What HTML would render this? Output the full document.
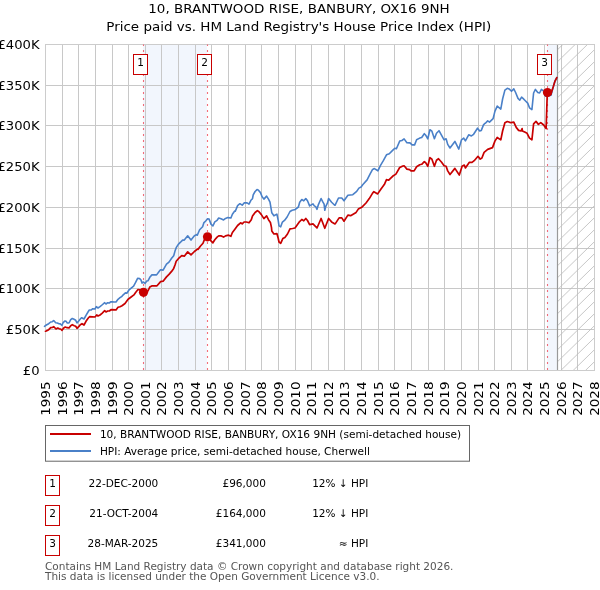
<!DOCTYPE html>
<html><head><meta charset="utf-8"><style>
html,body{margin:0;padding:0;background:#fff;}
svg{display:block;}
text{font-family:"DejaVu Sans","Liberation Sans",sans-serif;}
</style></head><body>
<svg width="600" height="590" viewBox="0 0 600 590">
<rect x="0" y="0" width="600" height="590" fill="#fff"/>
<g font-size="12.2" fill="#000" text-anchor="middle">
<text transform="translate(299,13.1) scale(1.105,1)">10, BRANTWOOD RISE, BANBURY, OX16 9NH</text>
<text transform="translate(298.8,30.7) scale(1.105,1)">Price paid vs. HM Land Registry's House Price Index (HPI)</text>
</g>
<rect x="143" y="44.5" width="64" height="326" fill="#f2f6fd"/>
<rect x="547" y="44.5" width="10.5" height="326" fill="#f2f6fd"/>
<g stroke="#c8c8c8" stroke-width="1" shape-rendering="crispEdges">
<line x1="62.5" y1="44" x2="62.5" y2="371"/><line x1="78.5" y1="44" x2="78.5" y2="371"/><line x1="95.5" y1="44" x2="95.5" y2="371"/><line x1="112.5" y1="44" x2="112.5" y2="371"/><line x1="128.5" y1="44" x2="128.5" y2="371"/><line x1="145.5" y1="44" x2="145.5" y2="371"/><line x1="161.5" y1="44" x2="161.5" y2="371"/><line x1="178.5" y1="44" x2="178.5" y2="371"/><line x1="195.5" y1="44" x2="195.5" y2="371"/><line x1="211.5" y1="44" x2="211.5" y2="371"/><line x1="228.5" y1="44" x2="228.5" y2="371"/><line x1="245.5" y1="44" x2="245.5" y2="371"/><line x1="261.5" y1="44" x2="261.5" y2="371"/><line x1="278.5" y1="44" x2="278.5" y2="371"/><line x1="295.5" y1="44" x2="295.5" y2="371"/><line x1="311.5" y1="44" x2="311.5" y2="371"/><line x1="328.5" y1="44" x2="328.5" y2="371"/><line x1="344.5" y1="44" x2="344.5" y2="371"/><line x1="361.5" y1="44" x2="361.5" y2="371"/><line x1="378.5" y1="44" x2="378.5" y2="371"/><line x1="394.5" y1="44" x2="394.5" y2="371"/><line x1="411.5" y1="44" x2="411.5" y2="371"/><line x1="428.5" y1="44" x2="428.5" y2="371"/><line x1="444.5" y1="44" x2="444.5" y2="371"/><line x1="461.5" y1="44" x2="461.5" y2="371"/><line x1="478.5" y1="44" x2="478.5" y2="371"/><line x1="494.5" y1="44" x2="494.5" y2="371"/><line x1="511.5" y1="44" x2="511.5" y2="371"/><line x1="527.5" y1="44" x2="527.5" y2="371"/><line x1="544.5" y1="44" x2="544.5" y2="371"/><line x1="561.5" y1="44" x2="561.5" y2="371"/><line x1="577.5" y1="44" x2="577.5" y2="371"/><line x1="45" y1="85.5" x2="595" y2="85.5"/><line x1="45" y1="125.5" x2="595" y2="125.5"/><line x1="45" y1="166.5" x2="595" y2="166.5"/><line x1="45" y1="207.5" x2="595" y2="207.5"/><line x1="45" y1="248.5" x2="595" y2="248.5"/><line x1="45" y1="288.5" x2="595" y2="288.5"/><line x1="45" y1="329.5" x2="595" y2="329.5"/>
</g>
<clipPath id="hc"><rect x="558" y="44.5" width="36.5" height="326"/></clipPath>
<g clip-path="url(#hc)" stroke="#bdbdbd" stroke-width="0.85">
<line x1="555.5" y1="39.65" x2="596.5" y2="-0.32"/><line x1="555.5" y1="51.65" x2="596.5" y2="11.68"/><line x1="555.5" y1="63.65" x2="596.5" y2="23.68"/><line x1="555.5" y1="75.65" x2="596.5" y2="35.68"/><line x1="555.5" y1="87.65" x2="596.5" y2="47.68"/><line x1="555.5" y1="99.65" x2="596.5" y2="59.68"/><line x1="555.5" y1="111.65" x2="596.5" y2="71.67"/><line x1="555.5" y1="123.65" x2="596.5" y2="83.67"/><line x1="555.5" y1="135.65" x2="596.5" y2="95.67"/><line x1="555.5" y1="147.65" x2="596.5" y2="107.67"/><line x1="555.5" y1="159.65" x2="596.5" y2="119.67"/><line x1="555.5" y1="171.65" x2="596.5" y2="131.68"/><line x1="555.5" y1="183.65" x2="596.5" y2="143.68"/><line x1="555.5" y1="195.65" x2="596.5" y2="155.68"/><line x1="555.5" y1="207.65" x2="596.5" y2="167.68"/><line x1="555.5" y1="219.65" x2="596.5" y2="179.68"/><line x1="555.5" y1="231.65" x2="596.5" y2="191.68"/><line x1="555.5" y1="243.65" x2="596.5" y2="203.68"/><line x1="555.5" y1="255.65" x2="596.5" y2="215.68"/><line x1="555.5" y1="267.65" x2="596.5" y2="227.68"/><line x1="555.5" y1="279.65" x2="596.5" y2="239.68"/><line x1="555.5" y1="291.65" x2="596.5" y2="251.68"/><line x1="555.5" y1="303.65" x2="596.5" y2="263.68"/><line x1="555.5" y1="315.65" x2="596.5" y2="275.68"/><line x1="555.5" y1="327.65" x2="596.5" y2="287.68"/><line x1="555.5" y1="339.65" x2="596.5" y2="299.68"/><line x1="555.5" y1="351.65" x2="596.5" y2="311.68"/><line x1="555.5" y1="363.65" x2="596.5" y2="323.68"/><line x1="555.5" y1="375.65" x2="596.5" y2="335.68"/><line x1="555.5" y1="387.65" x2="596.5" y2="347.68"/><line x1="555.5" y1="399.65" x2="596.5" y2="359.68"/><line x1="555.5" y1="411.65" x2="596.5" y2="371.68"/>
</g>
<line x1="557.5" y1="44.5" x2="557.5" y2="370.5" stroke="#999" stroke-width="1.2"/>
<rect x="45.5" y="44.5" width="549" height="326" fill="none" stroke="#cccccc" stroke-width="1"/>
<g stroke="#f03040" stroke-opacity="0.7" stroke-width="1.1" stroke-dasharray="2,4" stroke-dashoffset="0.5">
<line x1="143.5" y1="44.5" x2="143.5" y2="370.5"/>
<line x1="207.5" y1="44.5" x2="207.5" y2="370.5"/>
<line x1="547.5" y1="44.5" x2="547.5" y2="370.5"/>
</g>
<polyline points="44.5,326.3 46.3,325.0 48.7,323.7 50.7,322.0 52.3,321.7 53.7,320.5 55.7,322.7 57.3,323.0 59.0,323.7 60.3,323.9 62.0,325.3 63.3,322.3 65.0,321.0 66.0,321.3 67.3,323.0 69.0,323.0 70.7,319.7 72.3,318.5 74.0,319.3 75.7,320.3 77.0,323.0 78.7,321.0 80.3,319.0 81.7,317.7 84.0,319.0 86.0,315.3 88.0,312.0 89.3,310.0 91.3,310.0 92.7,308.7 95.0,309.0 96.3,306.7 98.0,308.0 100.0,306.7 102.0,305.0 104.7,302.7 106.0,304.0 107.7,302.7 109.3,303.0 111.0,301.7 113.3,301.9 116.0,302.0 118.0,299.3 120.0,297.7 122.0,296.3 122.7,295.3 125.4,292.9 126.8,293.2 128.8,290.2 131.5,287.8 133.6,286.1 135.6,282.4 137.6,278.3 139.7,278.6 141.0,280.0 142.0,283.1 143.4,282.0 145.1,283.4 146.8,281.0 148.1,280.7 149.8,277.3 151.9,274.9 156.6,274.9 159.3,271.2 160.5,269.7 163.1,270.1 166.5,264.2 169.0,262.1 171.6,258.3 173.7,255.7 175.0,251.1 176.2,247.7 178.3,244.3 180.5,242.2 182.6,240.1 184.3,240.1 187.7,235.8 191.0,240.1 194.4,235.8 197.0,234.5 197.3,235.2 199.6,229.8 202.6,226.8 203.8,222.9 205.7,221.0 207.6,218.7 209.1,219.1 211.0,224.1 212.9,226.0 214.8,221.8 217.1,220.3 218.7,218.0 221.0,218.7 223.6,219.9 225.5,218.4 227.8,217.6 230.9,218.0 232.4,214.2 234.7,211.1 235.3,211.3 237.6,205.6 239.9,203.7 242.2,205.2 244.1,202.9 247.1,202.9 249.0,204.1 250.9,200.3 252.5,198.7 253.2,194.9 255.1,191.5 257.0,189.6 258.2,190.0 260.5,192.6 262.0,196.5 263.9,199.1 266.6,196.1 268.5,199.1 270.0,202.2 271.8,212.8 273.9,215.8 276.9,214.1 278.2,220.4 279.0,225.9 280.7,226.8 282.4,222.1 284.5,220.4 287.1,217.0 290.0,211.5 292.2,210.3 294.3,209.8 295.0,209.7 298.4,207.0 299.7,202.2 301.8,199.5 303.8,200.8 305.8,198.5 307.5,200.8 309.6,205.9 313.0,203.9 314.3,205.9 315.7,206.6 317.0,209.3 318.4,204.6 321.1,198.5 322.8,201.9 324.1,204.2 324.8,210.3 325.8,206.3 327.5,202.9 328.6,198.5 331.6,202.2 334.7,205.2 335.0,205.3 338.5,198.0 341.8,198.0 344.0,200.8 347.9,195.3 352.8,194.7 356.7,191.4 358.9,188.1 361.1,187.0 362.7,184.8 367.1,179.9 370.4,173.3 372.6,169.4 374.4,168.6 377.9,170.8 380.5,165.3 383.2,160.9 386.5,154.8 389.3,153.7 392.6,150.4 394.8,148.2 396.4,148.8 399.7,141.1 401.9,140.5 404.1,138.9 406.9,142.7 409.6,142.9 410.0,142.9 412.1,144.9 414.6,144.9 416.6,139.8 419.7,138.1 421.7,137.5 424.3,133.7 425.8,135.3 427.8,138.8 429.9,129.7 431.9,131.2 434.4,138.8 436.5,133.2 439.0,130.7 441.6,135.3 444.1,139.8 446.1,138.8 447.7,144.4 450.0,148.0 454.9,141.4 458.8,149.1 461.5,139.8 463.7,138.1 465.4,140.9 468.7,134.8 471.4,135.9 473.6,134.3 477.5,128.2 479.7,131.0 481.3,130.4 483.5,124.9 485.0,123.3 485.4,123.3 487.7,120.9 489.5,122.1 493.1,118.6 494.9,111.4 497.2,106.1 500.8,109.1 502.6,99.0 504.9,90.1 507.3,88.3 509.1,88.9 511.5,91.3 513.8,88.9 515.6,92.5 518.0,98.4 519.8,100.2 521.6,97.2 523.0,98.4 525.3,100.7 527.7,103.1 529.5,107.8 531.9,109.6 533.6,93.0 535.4,89.4 537.8,92.4 539.6,93.0 541.4,89.4 543.7,91.2 545.5,96.3 551.0,95.3 553.2,87.0 555.0,81.1 556.8,77.6" fill="none" stroke="#4a80c8" stroke-width="1.6" stroke-linejoin="round" stroke-linecap="round"/>
<polyline points="45.5,331.2 46.3,331.0 48.7,329.7 50.7,327.7 52.3,327.5 53.7,326.7 56.0,329.0 57.7,328.0 59.3,328.8 60.7,329.0 62.0,330.3 63.7,328.0 65.3,327.0 67.0,327.7 69.0,327.9 70.7,325.7 72.3,324.7 74.3,325.7 75.7,326.3 77.0,328.3 78.7,326.7 80.3,324.7 82.0,323.7 84.0,325.0 86.0,321.3 88.3,318.0 89.7,316.7 95.0,317.0 96.7,315.0 98.0,316.0 100.0,315.0 102.0,313.3 104.7,310.7 106.0,312.0 107.7,311.0 109.3,311.0 111.0,309.7 116.0,309.9 118.0,307.3 120.0,306.7 122.0,305.7 125.0,303.5 128.1,299.3 130.8,297.3 133.9,294.9 135.6,292.5 138.0,289.5 139.7,289.8 143.5,292.3 147.8,291.2 149.8,287.1 152.2,285.8 157.0,285.8 160.0,282.4 160.5,281.6 163.1,281.2 166.5,276.9 169.0,274.4 171.6,271.4 173.7,268.4 175.0,265.0 176.2,261.2 179.2,257.8 181.7,255.7 184.3,256.2 187.7,251.9 191.0,254.9 194.4,251.5 197.8,248.9 198.1,249.3 200.3,246.2 203.0,243.2 204.5,239.4 207.5,236.8 211.0,240.9 212.9,242.8 214.8,239.7 217.1,237.1 218.7,235.9 221.3,235.9 223.6,237.1 225.5,235.9 228.6,235.2 230.9,236.3 232.4,232.5 234.7,229.4 237.6,225.5 240.6,222.8 242.2,223.9 244.1,222.0 246.4,222.0 249.0,222.8 251.3,219.7 252.5,215.9 255.1,212.5 257.4,210.6 259.0,211.7 261.2,214.4 263.9,218.6 266.6,215.9 268.5,219.7 270.4,222.4 271.5,227.7 271.8,231.0 273.9,234.0 276.9,233.6 278.2,238.2 279.0,242.0 280.7,243.3 282.8,238.6 284.9,237.4 287.5,234.0 290.0,228.9 292.6,228.5 295.0,228.0 299.1,222.2 301.8,219.5 303.8,220.8 305.8,218.5 307.5,220.5 309.6,224.6 313.0,223.9 314.7,225.6 317.0,228.0 321.1,218.5 324.8,228.3 328.6,218.5 331.6,221.9 335.0,223.9 335.2,223.9 339.1,217.9 341.8,217.9 344.0,221.2 347.9,215.1 350.6,215.7 356.1,212.4 358.3,209.1 362.2,206.9 366.0,203.0 369.3,198.6 372.6,193.1 373.9,191.7 377.7,193.9 381.0,189.0 384.3,184.6 386.5,179.6 388.7,180.2 392.6,176.3 395.9,174.1 399.7,167.5 401.9,166.4 404.1,165.8 406.9,169.1 409.6,169.7 411.0,170.9 414.1,170.9 416.6,166.8 419.7,164.8 421.7,164.3 424.3,161.7 425.8,162.8 427.8,166.3 429.9,157.6 431.9,159.2 434.4,166.3 436.5,160.2 438.5,158.7 441.6,162.2 444.1,165.8 446.1,166.3 447.7,170.9 450.0,174.5 454.9,168.4 459.3,175.0 462.1,166.2 464.3,165.1 465.4,167.9 469.2,162.4 472.0,162.4 474.2,160.7 478.0,156.3 480.2,159.1 481.9,158.0 484.1,152.4 487.7,149.4 492.5,147.6 494.9,141.1 497.2,137.5 500.8,139.9 502.6,131.0 504.9,122.7 507.3,121.5 510.9,122.7 513.8,122.1 516.2,127.4 518.6,130.4 521.0,131.0 522.1,128.6 522.4,130.9 524.7,132.1 527.1,133.3 529.5,138.1 531.9,139.8 533.6,123.8 536.0,121.4 538.4,124.4 540.8,122.6 543.7,125.0 546.1,128.6 547.3,92.4 550.8,94.2 553.2,87.0 555.0,81.1 556.8,77.6" fill="none" stroke="#c80000" stroke-width="1.7" stroke-linejoin="round" stroke-linecap="round"/>
<g fill="#c80000">
<circle cx="143.5" cy="292.3" r="4.6"/>
<circle cx="207.5" cy="236.8" r="4.6"/>
<circle cx="547.5" cy="92.6" r="4.6"/>
</g>
<g fill="#fff" stroke="#c80000" stroke-width="1" shape-rendering="crispEdges">
<rect x="133.5" y="54.5" width="14" height="20"/>
<rect x="197.5" y="54.5" width="14" height="20"/>
<rect x="537.5" y="54.5" width="14" height="20"/>
</g>
<g font-size="10.5" fill="#000" text-anchor="middle">
<text x="140.5" y="66">1</text>
<text x="204.5" y="66">2</text>
<text x="544.5" y="66">3</text>
</g>
<g font-size="12.2" fill="#000">
<text transform="translate(39.6,374.95) scale(1.08,1)" text-anchor="end">£0</text><text transform="translate(39.6,334.20) scale(1.08,1)" text-anchor="end">£50K</text><text transform="translate(39.6,293.45) scale(1.08,1)" text-anchor="end">£100K</text><text transform="translate(39.6,252.70) scale(1.08,1)" text-anchor="end">£150K</text><text transform="translate(39.6,211.95) scale(1.08,1)" text-anchor="end">£200K</text><text transform="translate(39.6,171.20) scale(1.08,1)" text-anchor="end">£250K</text><text transform="translate(39.6,130.45) scale(1.08,1)" text-anchor="end">£300K</text><text transform="translate(39.6,89.70) scale(1.08,1)" text-anchor="end">£350K</text><text transform="translate(39.6,48.95) scale(1.08,1)" text-anchor="end">£400K</text>
<text transform="translate(49.95,381.4) rotate(-90) scale(1.11,1)" text-anchor="end">1995</text><text transform="translate(66.59,381.4) rotate(-90) scale(1.11,1)" text-anchor="end">1996</text><text transform="translate(83.22,381.4) rotate(-90) scale(1.11,1)" text-anchor="end">1997</text><text transform="translate(99.86,381.4) rotate(-90) scale(1.11,1)" text-anchor="end">1998</text><text transform="translate(116.50,381.4) rotate(-90) scale(1.11,1)" text-anchor="end">1999</text><text transform="translate(133.13,381.4) rotate(-90) scale(1.11,1)" text-anchor="end">2000</text><text transform="translate(149.77,381.4) rotate(-90) scale(1.11,1)" text-anchor="end">2001</text><text transform="translate(166.40,381.4) rotate(-90) scale(1.11,1)" text-anchor="end">2002</text><text transform="translate(183.04,381.4) rotate(-90) scale(1.11,1)" text-anchor="end">2003</text><text transform="translate(199.68,381.4) rotate(-90) scale(1.11,1)" text-anchor="end">2004</text><text transform="translate(216.31,381.4) rotate(-90) scale(1.11,1)" text-anchor="end">2005</text><text transform="translate(232.95,381.4) rotate(-90) scale(1.11,1)" text-anchor="end">2006</text><text transform="translate(249.59,381.4) rotate(-90) scale(1.11,1)" text-anchor="end">2007</text><text transform="translate(266.22,381.4) rotate(-90) scale(1.11,1)" text-anchor="end">2008</text><text transform="translate(282.86,381.4) rotate(-90) scale(1.11,1)" text-anchor="end">2009</text><text transform="translate(299.50,381.4) rotate(-90) scale(1.11,1)" text-anchor="end">2010</text><text transform="translate(316.13,381.4) rotate(-90) scale(1.11,1)" text-anchor="end">2011</text><text transform="translate(332.77,381.4) rotate(-90) scale(1.11,1)" text-anchor="end">2012</text><text transform="translate(349.40,381.4) rotate(-90) scale(1.11,1)" text-anchor="end">2013</text><text transform="translate(366.04,381.4) rotate(-90) scale(1.11,1)" text-anchor="end">2014</text><text transform="translate(382.68,381.4) rotate(-90) scale(1.11,1)" text-anchor="end">2015</text><text transform="translate(399.31,381.4) rotate(-90) scale(1.11,1)" text-anchor="end">2016</text><text transform="translate(415.95,381.4) rotate(-90) scale(1.11,1)" text-anchor="end">2017</text><text transform="translate(432.59,381.4) rotate(-90) scale(1.11,1)" text-anchor="end">2018</text><text transform="translate(449.22,381.4) rotate(-90) scale(1.11,1)" text-anchor="end">2019</text><text transform="translate(465.86,381.4) rotate(-90) scale(1.11,1)" text-anchor="end">2020</text><text transform="translate(482.50,381.4) rotate(-90) scale(1.11,1)" text-anchor="end">2021</text><text transform="translate(499.13,381.4) rotate(-90) scale(1.11,1)" text-anchor="end">2022</text><text transform="translate(515.77,381.4) rotate(-90) scale(1.11,1)" text-anchor="end">2023</text><text transform="translate(532.40,381.4) rotate(-90) scale(1.11,1)" text-anchor="end">2024</text><text transform="translate(549.04,381.4) rotate(-90) scale(1.11,1)" text-anchor="end">2025</text><text transform="translate(565.68,381.4) rotate(-90) scale(1.11,1)" text-anchor="end">2026</text><text transform="translate(582.31,381.4) rotate(-90) scale(1.11,1)" text-anchor="end">2027</text><text transform="translate(598.95,381.4) rotate(-90) scale(1.11,1)" text-anchor="end">2028</text>
</g>
<rect x="45.5" y="425.5" width="424" height="35.7" fill="#fff" stroke="#666" stroke-width="1"/>
<line x1="50" y1="434" x2="91" y2="434" stroke="#c80000" stroke-width="2"/>
<line x1="50" y1="451" x2="91" y2="451" stroke="#4a80c8" stroke-width="2"/>
<g font-size="10.56" fill="#000">
<text x="99.9" y="438">10, BRANTWOOD RISE, BANBURY, OX16 9NH (semi-detached house)</text>
<text x="99.9" y="455">HPI: Average price, semi-detached house, Cherwell</text>
</g>
<g fill="#fff" stroke="#c80000" stroke-width="1" shape-rendering="crispEdges">
<rect x="45.5" y="475.5" width="14" height="20"/>
<rect x="45.5" y="505.5" width="14" height="20"/>
<rect x="45.5" y="535.5" width="14" height="20"/>
</g>
<g font-size="10.5" fill="#000">
<text x="52.5" y="486.8" text-anchor="middle">1</text>
<text x="52.5" y="516.8" text-anchor="middle">2</text>
<text x="52.5" y="546.8" text-anchor="middle">3</text>
<text x="158.3" y="486.8" text-anchor="end">22-DEC-2000</text>
<text x="158.3" y="516.8" text-anchor="end">21-OCT-2004</text>
<text x="158.3" y="546.8" text-anchor="end">28-MAR-2025</text>
<text x="265.9" y="486.8" text-anchor="end">£96,000</text>
<text x="265.9" y="516.8" text-anchor="end">£164,000</text>
<text x="265.9" y="546.8" text-anchor="end">£341,000</text>
<text x="368.3" y="486.8" text-anchor="end">12% ↓ HPI</text>
<text x="368.3" y="516.8" text-anchor="end">12% ↓ HPI</text>
<text x="368.3" y="546.8" text-anchor="end">≈ HPI</text>
</g>
<g font-size="10.5" fill="#555">
<text x="45" y="569.7">Contains HM Land Registry data © Crown copyright and database right 2026.</text>
<text x="45" y="579.6">This data is licensed under the Open Government Licence v3.0.</text>
</g>
</svg>
</body></html>
